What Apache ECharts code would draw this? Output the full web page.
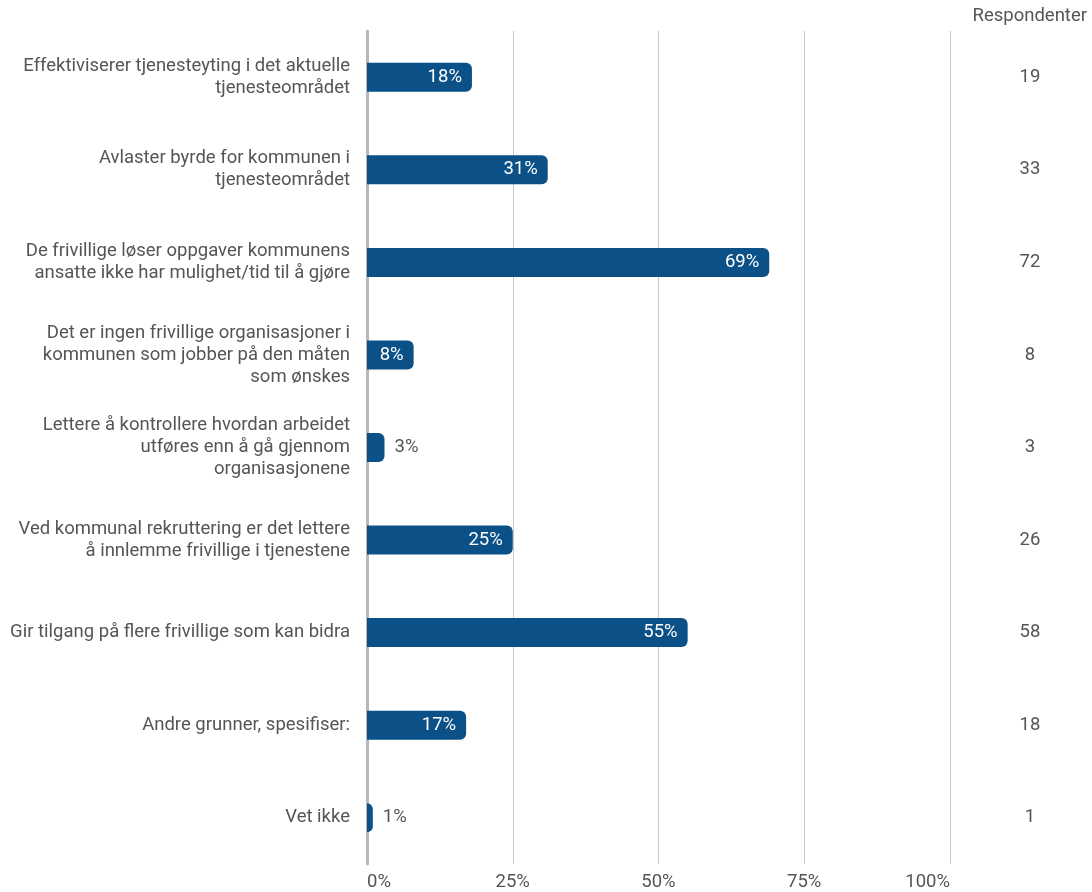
<!DOCTYPE html>
<html>
<head>
<meta charset="utf-8">
<script src="https://cdn.jsdelivr.net/npm/echarts@6/dist/echarts.min.js"></script>
<style>
  html, body { margin: 0; padding: 0; background: #fff; }
  #chart { width: 1092px; height: 892px; }
</style>
</head>
<body>
<div id="chart"></div>
<script>
// Survey reasons (multiple answers allowed), share of respondents and counts
const categories = [
  'Effektiviserer tjenesteyting i det aktuelle\ntjenesteområdet',
  'Avlaster byrde for kommunen i\ntjenesteområdet',
  'De frivillige løser oppgaver kommunens\nansatte ikke har mulighet/tid til å gjøre',
  'Det er ingen frivillige organisasjoner i\nkommunen som jobber på den måten\nsom ønskes',
  'Lettere å kontrollere hvordan arbeidet\nutføres enn å gå gjennom\norganisasjonene',
  'Ved kommunal rekruttering er det lettere\nå innlemme frivillige i tjenestene',
  'Gir tilgang på flere frivillige som kan bidra',
  'Andre grunner, spesifiser:',
  'Vet ikke'
];
const percents = [18, 31, 69, 8, 3, 25, 55, 17, 1];
const respondents = [19, 33, 72, 8, 3, 26, 58, 18, 1];
const xTicks = [0, 25, 50, 75, 100];

const FONT = 'Roboto, "Noto Sans", sans-serif';
const FS = 18.5;
const BAR = '#0b5187';
const TEXT = '#555';

const chart = echarts.init(document.getElementById('chart'), null, { renderer: 'canvas' });

// Short bars get their label outside, in grey; the rest inside, in white
const barData = percents.map(v => ({
  value: v,
  label: v < 5
    ? { position: 'right', color: TEXT, distance: 10 }
    : { position: 'insideRight', color: '#fff', distance: 10 }
}));

chart.setOption({
  animation: false,
  textStyle: { fontFamily: FONT },
  title: {
    text: 'Respondenter',
    right: 5,
    top: 7,
    padding: 0,
    textStyle: { fontFamily: FONT, fontSize: FS, fontWeight: 'normal', color: TEXT }
  },
  grid: { left: 367, right: 142, top: 31, bottom: 25, containLabel: false },
  xAxis: {
    type: 'value',
    min: xTicks[0],
    max: xTicks[xTicks.length - 1],
    interval: 25,
    axisLine: { show: false },
    axisTick: { show: false },
    splitLine: {
      show: true,
      lineStyle: { color: '#c8c8c8', width: 1 },
      showMinLine: false
    },
    axisLabel: {
      formatter: v => v + '%',
      color: TEXT,
      fontSize: FS,
      fontFamily: FONT,
      margin: 9,
      alignMinLabel: 'left',
      alignMaxLabel: 'right'
    }
  },
  yAxis: [
    {
      type: 'category',
      data: categories,
      inverse: true,
      axisLine: { show: true, lineStyle: { color: '#b8b8b8', width: 3 } },
      axisTick: { show: false },
      axisLabel: {
        color: TEXT,
        fontSize: FS,
        fontFamily: FONT,
        lineHeight: 22,
        margin: 17,
        align: 'right'
      }
    },
    {
      type: 'category',
      data: respondents.map(String),
      inverse: true,
      position: 'right',
      axisLine: { show: false },
      axisTick: { show: false },
      axisLabel: {
        color: TEXT,
        fontSize: FS,
        fontFamily: FONT,
        align: 'center',
        margin: 80
      }
    }
  ],
  series: [
    {
      type: 'bar',
      data: barData,
      barWidth: 29,
      itemStyle: { color: BAR, borderRadius: [0, 6, 6, 0] },
      label: {
        show: true,
        formatter: p => p.value + '%',
        fontSize: FS,
        fontFamily: FONT
      }
    }
  ]
});
</script>
</body>
</html>
